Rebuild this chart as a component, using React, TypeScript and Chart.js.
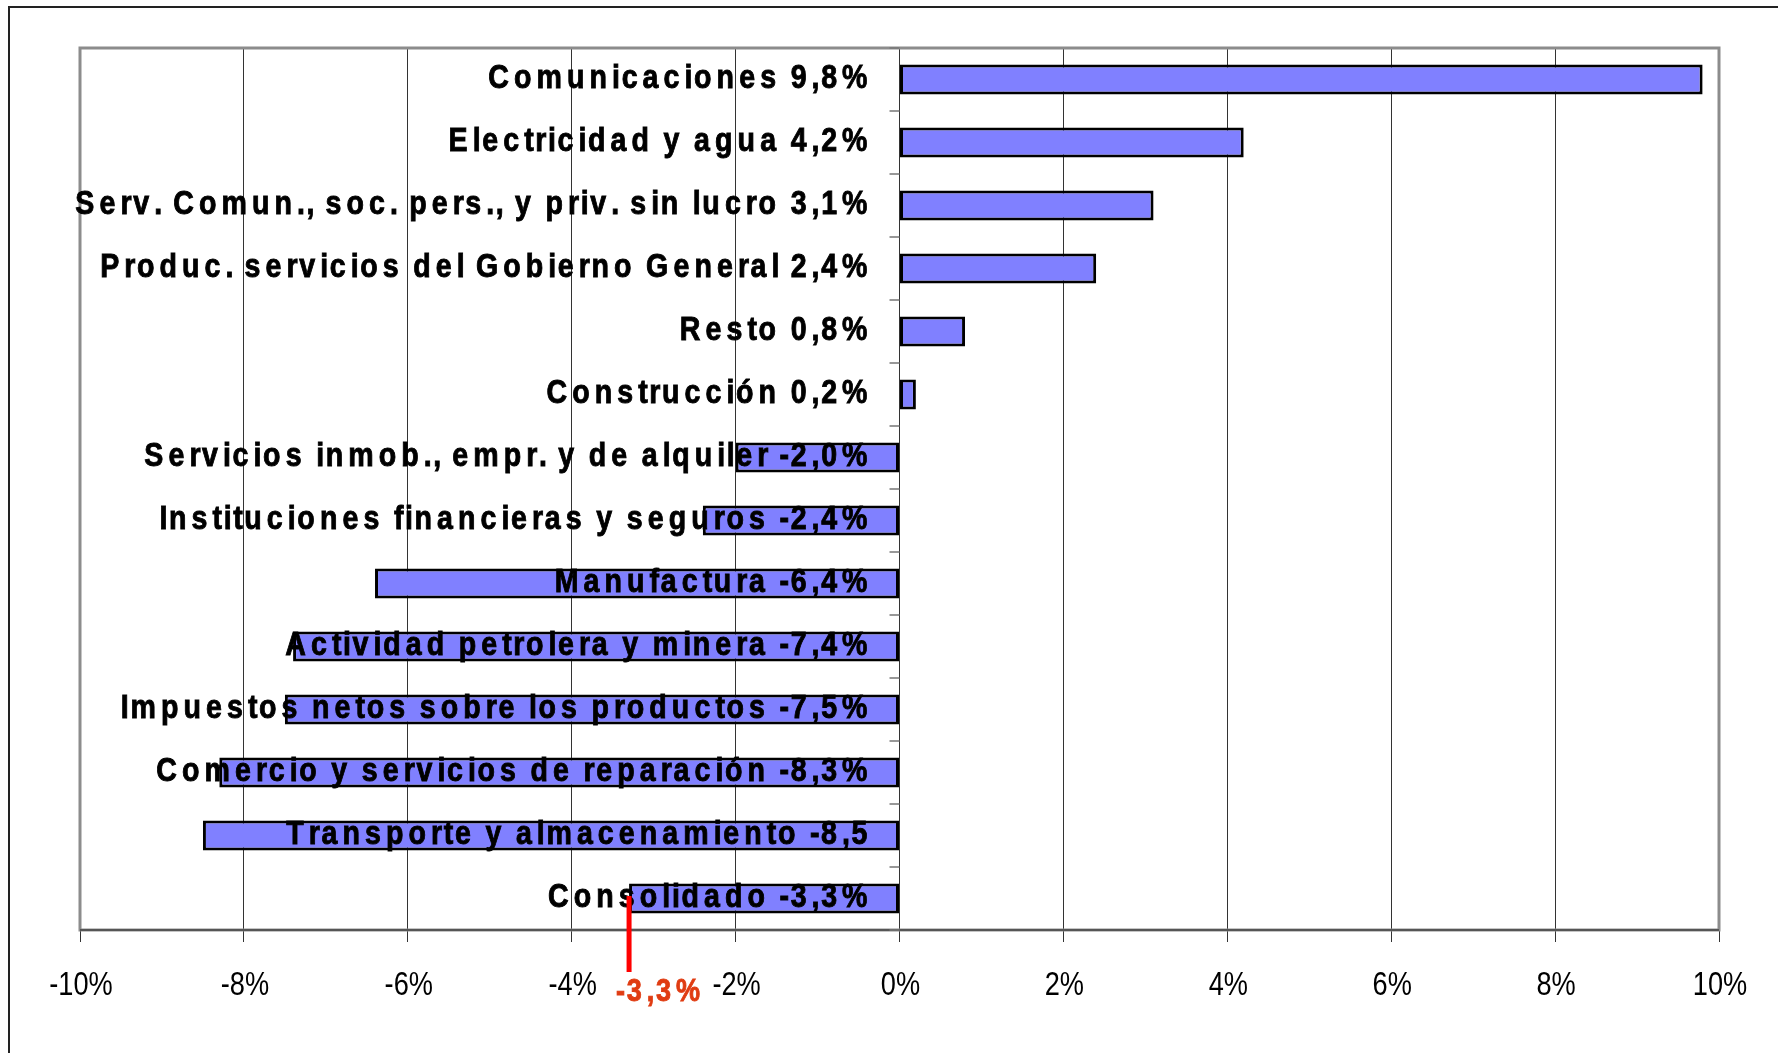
import React, { useEffect, useRef } from "react";
import { Chart, registerables } from "chart.js";

Chart.register(...registerables);

const categories = [
  "Comunicaciones 9,8%",
  "Electricidad y agua 4,2%",
  "Serv. Comun., soc. pers., y priv. sin lucro 3,1%",
  "Produc. servicios del Gobierno General 2,4%",
  "Resto 0,8%",
  "Construcción 0,2%",
  "Servicios inmob., empr. y de alquiler -2,0%",
  "Instituciones financieras y seguros -2,4%",
  "Manufactura -6,4%",
  "Actividad petrolera y minera -7,4%",
  "Impuestos netos sobre los productos -7,5%",
  "Comercio y servicios de reparación -8,3%",
  "Transporte y almacenamiento -8,5",
  "Consolidado -3,3%",
];

const values = [9.8, 4.2, 3.1, 2.4, 0.8, 0.2, -2.0, -2.4, -6.4, -7.4, -7.5, -8.3, -8.5, -3.3];

const xMin = -10;
const xMax = 10;
const xStep = 2;

const markerValue = -3.3;
const markerLabel = "-3,3%";

const FONT = '"Liberation Sans", Arial, sans-serif';
const LABEL_SQ = 0.865;
const TICK_SQ = 0.8;
const WIDE_GAP = 5.1;
const NARROW_GAP = 1.6;

function spacedText(
  ctx: CanvasRenderingContext2D,
  text: string,
  anchorX: number,
  baseline: number,
  size: number,
  color: string,
  align: "right" | "center",
  sq: number
) {
  ctx.save();
  ctx.font = `bold ${size}px ${FONT}`;
  const chars = Array.from(text);
  const adv = chars.map((ch) => {
    const w = ctx.measureText(ch).width;
    return w * sq + (w < 0.4 * size ? NARROW_GAP : WIDE_GAP);
  });
  const lastW = ctx.measureText(chars[chars.length - 1]).width;
  const total =
    adv.reduce((s, a) => s + a, 0) - (lastW < 0.4 * size ? NARROW_GAP : WIDE_GAP);
  let x = align === "right" ? anchorX - total : anchorX - total / 2;
  ctx.fillStyle = color;
  ctx.strokeStyle = color;
  ctx.lineWidth = 0.9;
  ctx.textAlign = "left";
  ctx.textBaseline = "alphabetic";
  chars.forEach((ch, i) => {
    ctx.save();
    ctx.translate(x, baseline);
    ctx.scale(sq, 1);
    ctx.fillText(ch, 0, 0);
    ctx.strokeText(ch, 0, 0);
    ctx.restore();
    x += adv[i];
  });
  ctx.restore();
}

export default function App() {
  const ref = useRef<HTMLCanvasElement>(null);

  useEffect(() => {
    if (!ref.current) return;

    const framePlugin = {
      id: "frame",
      beforeDraw(chart: any) {
        const ctx = chart.ctx;
        ctx.save();
        ctx.fillStyle = "#ffffff";
        ctx.fillRect(0, 0, chart.width, chart.height);
        ctx.strokeStyle = "#222222";
        ctx.lineWidth = 2;
        ctx.beginPath();
        ctx.moveTo(9, chart.height);
        ctx.lineTo(9, 7);
        ctx.lineTo(chart.width, 7);
        ctx.stroke();
        ctx.restore();
      },
      beforeDatasetsDraw(chart: any) {
        const ctx = chart.ctx;
        const a = chart.chartArea;
        const xs = chart.scales.x;
        ctx.save();
        ctx.strokeStyle = "#8c8c8c";
        ctx.lineWidth = 3;
        ctx.strokeRect(a.left, a.top, a.right - a.left, a.bottom - a.top);
        ctx.strokeStyle = "#555555";
        ctx.lineWidth = 2;
        ctx.beginPath();
        ctx.moveTo(a.left, a.bottom);
        ctx.lineTo(a.right, a.bottom);
        ctx.stroke();
        const x0 = xs.getPixelForValue(0);
        ctx.strokeStyle = "#777777";
        ctx.lineWidth = 1.5;
        const n = categories.length;
        const step = (a.bottom - a.top) / n;
        ctx.beginPath();
        for (let i = 0; i <= n; i++) {
          const y = Math.round(a.top + i * step);
          ctx.moveTo(x0 - 10, y);
          ctx.lineTo(x0, y);
        }
        ctx.stroke();
        ctx.restore();
      },
      afterDatasetsDraw(chart: any) {
        const ctx = chart.ctx;
        const a = chart.chartArea;
        const xs = chart.scales.x;
        const ys = chart.scales.y;
        const x0 = xs.getPixelForValue(0);
        categories.forEach((c, i) => {
          const yc = ys.getPixelForValue(i);
          spacedText(ctx, c, x0 - 32, yc + 8, 33, "#000000", "right", LABEL_SQ);
        });
        // x tick labels
        ctx.save();
        ctx.fillStyle = "#000000";
        ctx.font = `34px ${FONT}`;
        ctx.textAlign = "center";
        ctx.textBaseline = "alphabetic";
        xs.ticks.forEach((t: any) => {
          const x = xs.getPixelForValue(t.value);
          ctx.save();
          ctx.translate(x + 1, 995);
          ctx.scale(TICK_SQ, 1);
          ctx.fillText(`${t.value}%`, 0, 0);
          ctx.restore();
        });
        ctx.restore();
        // marker
        const mx = xs.getPixelForValue(markerValue);
        ctx.save();
        ctx.strokeStyle = "#ff0000";
        ctx.lineWidth = 5;
        ctx.beginPath();
        ctx.moveTo(mx, a.bottom - 34);
        ctx.lineTo(mx, a.bottom + 42);
        ctx.stroke();
        ctx.restore();
        spacedText(ctx, markerLabel, mx + 29, 1001, 32, "#e03c12", "center", 0.845);
      },
    };

    const chart = new Chart(ref.current, {
      type: "bar",
      data: {
        labels: categories,
        datasets: [
          {
            data: values,
            backgroundColor: "#8080ff",
            borderColor: "#000000",
            borderWidth: 3,
            borderSkipped: false,
            barPercentage: 0.48,
            categoryPercentage: 1,
          },
        ],
      },
      options: {
        indexAxis: "y",
        responsive: false,
        animation: false,
        layout: { padding: { left: 80, right: 59, top: 48, bottom: 111 } },
        plugins: { legend: { display: false }, tooltip: { enabled: false } },
        scales: {
          x: {
            min: xMin,
            max: xMax,
            grid: { color: "#333333", lineWidth: 1, tickLength: 12, drawTicks: true },
            border: { display: false },
            ticks: {
              display: false,
              stepSize: xStep,
            },
          },
          y: {
            display: false,
          },
        },
      },
      plugins: [framePlugin],
    });

    return () => chart.destroy();
  }, []);

  return (
    <div style={{ position: "absolute", left: 0, top: 0, width: 1778, height: 1053 }}>
      <canvas ref={ref} width={1778} height={1053} />
    </div>
  );
}
